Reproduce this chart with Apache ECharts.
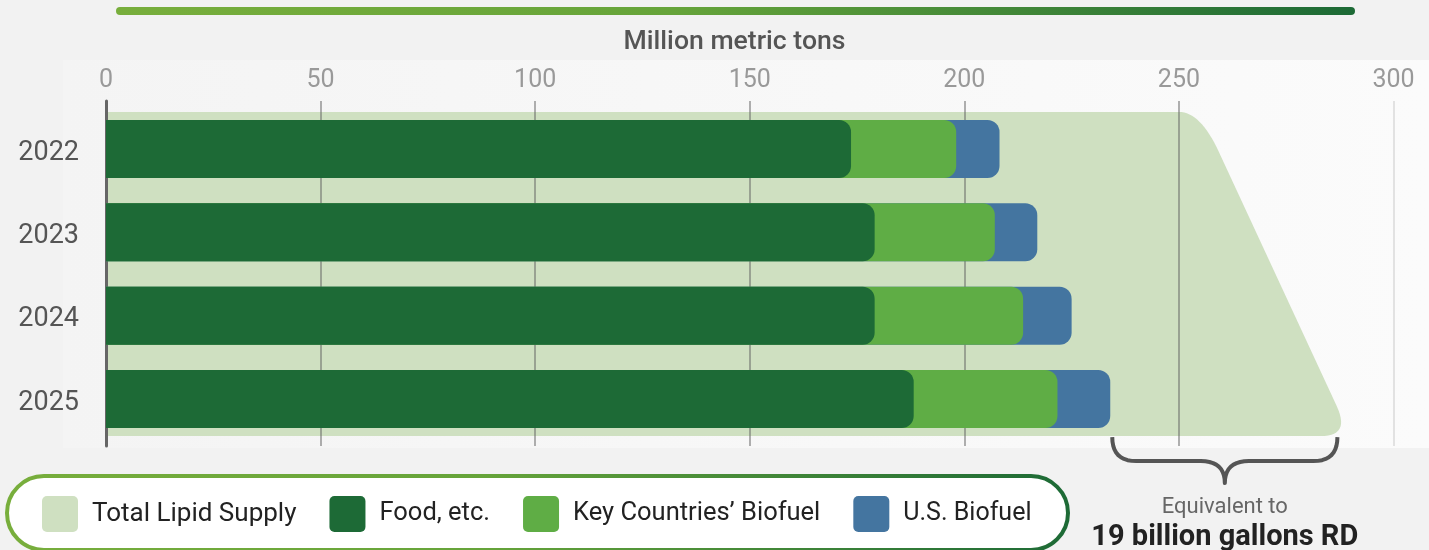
<!DOCTYPE html>
<html>
<head>
<meta charset="utf-8">
<script src="https://cdn.jsdelivr.net/npm/echarts@6/dist/echarts.min.js"></script>
<style>
  html, body { margin: 0; padding: 0; background: #f2f2f2; }
  #chart { width: 1429px; height: 550px; }
</style>
</head>
<body>
<div id="chart"></div>
<script>
// data (million metric tons)
const years = ['2022', '2023', '2024', '2025'];
const foodEtc = [173.6, 179.1, 179.1, 188.2];
const keyBiofuel = [24.5, 28.0, 34.6, 33.5];
const usBiofuel = [10.1, 9.9, 11.3, 12.3];
const totalSupply = [259, 268, 277, 286];
const supplyFlatEnd = 250;

const xMin = 0, xMax = 300, xStep = 50;
const axisTitle = 'Million metric tons';
const seriesNames = ['Total Lipid Supply', 'Food, etc.', 'Key Countries’ Biofuel', 'U.S. Biofuel'];
const braceLines = ['Equivalent to', '19 billion gallons RD'];

const colors = {
    supply: '#cfe0c1',
    food: '#1d6a36',
    key: '#5fad45',
    us: '#4475a0'
};

// overlapped bars (each segment rounded, so the one below shows under the corner)
let keyEnd = foodEtc.map(function (v, i) { return v + keyBiofuel[i]; });
let usEnd = keyEnd.map(function (v, i) { return v + usBiofuel[i]; });

function quad(p0, c, p1, n) {
    let pts = [];
    for (let i = 0; i <= n; i++) {
        let t = i / n;
        let a = (1 - t) * (1 - t), b = 2 * (1 - t) * t, d = t * t;
        pts.push([a * p0[0] + b * c[0] + d * p1[0], a * p0[1] + b * c[1] + d * p1[1]]);
    }
    return pts;
}

function renderSupply(params, api) {
    let band = api.size([0, 1])[1];
    let pad = band * 0.445;
    let p0 = api.coord([totalSupply[0], 0]);
    let p3 = api.coord([totalSupply[3], 3]);
    let x0 = api.coord([0, 0])[0];
    let flat = api.coord([supplyFlatEnd, 0])[0];
    let top = p0[1] - pad, bot = p3[1] + pad;
    let k = (p3[0] - p0[0]) / (p3[1] - p0[1]);
    let xt = p0[0] - k * pad, xb = p3[0] + k * pad;
    let pts = [[x0, top], [flat, top]];
    pts = pts.concat(quad([flat, top], [xt, top], [xt + k * 40, top + 40], 16));
    pts = pts.concat(quad([xb - k * 30, bot - 30], [xb, bot], [xb - 30, bot], 14));
    pts.push([x0, bot]);
    return {
        type: 'polygon',
        shape: { points: pts },
        style: { fill: api.visual('color') }
    };
}

function renderBrace(params, api) {
    let band = api.size([0, 1])[1];
    let pad = band * 0.445;
    let a = api.coord([usEnd[3], 3]);
    let b = api.coord([totalSupply[3], 3]);
    let xl = a[0] + 2, xr = b[0] + 4;
    let xm = (xl + xr) / 2;
    let y0 = a[1] + pad + 1, y1 = y0 + 24, y2 = y0 + 46;
    let r = 24;
    let pts = quad([xl, y0], [xl, y1], [xl + r, y1], 10);
    pts = pts.concat(quad([xm - r, y1], [xm, y1], [xm, y2], 10));
    pts = pts.concat(quad([xm, y2], [xm, y1], [xm + r, y1], 10));
    pts = pts.concat(quad([xr - r, y1], [xr, y1], [xr, y0], 10));
    return {
        type: 'group',
        children: [
            {
                type: 'polyline',
                shape: { points: pts },
                style: { stroke: '#555', lineWidth: 4, fill: null, lineJoin: 'round' }
            },
            {
                type: 'text', x: xm, y: y0 + 70,
                style: { text: braceLines[0], fill: '#666', font: '22px Roboto', align: 'center', verticalAlign: 'middle' }
            },
            {
                type: 'text', x: xm, y: y0 + 101,
                style: { text: braceLines[1], fill: '#222', font: 'bold 29px Roboto', align: 'center', verticalAlign: 'middle' }
            }
        ]
    };
}

let greenGrad = new echarts.graphic.LinearGradient(0, 0, 1, 0, [
    { offset: 0, color: '#78ae3c' },
    { offset: 0.45, color: '#66a43a' },
    { offset: 1, color: '#1d6a36' }
]);

// legend label sizes tuned one by one to the picture
let legendSizes = [26, 25.5, 25.5, 25];

let myChart = echarts.init(document.getElementById('chart'));

let option = {
    animation: false,
    backgroundColor: '#f2f2f2',
    textStyle: { fontFamily: 'Roboto' },
    graphic: [
        {
            type: 'rect', z: -10,
            shape: { x: 63, y: 60, width: 1366, height: 388 },
            style: {
                fill: new echarts.graphic.LinearGradient(0, 0, 1, 0, [
                    { offset: 0, color: '#f4f4f4' },
                    { offset: 1, color: '#fbfbfb' }
                ])
            }
        },
        {
            type: 'rect',
            shape: { x: 116, y: 7, width: 1239, height: 8, r: 4 },
            style: { fill: greenGrad }
        },
        {
            type: 'text', x: 734.5, y: 42,
            style: { text: axisTitle, fill: '#555', font: '500 26.6px Roboto', align: 'center', verticalAlign: 'middle' }
        },
        {
            type: 'rect',
            shape: { x: 7, y: 476, width: 1061, height: 74, r: 37 },
            style: { fill: '#fff', stroke: greenGrad, lineWidth: 4 }
        }
    ],
    legend: {
        data: seriesNames.map(function (n, i) {
            return { name: n, textStyle: { fontSize: legendSizes[i] } };
        }),
        left: 42,
        top: 496,
        padding: 0,
        itemWidth: 36,
        itemHeight: 36,
        itemGap: 33,
        selectedMode: false,
        icon: 'path://M5,0H31A5,5 0 0 1 36,5V31A5,5 0 0 1 31,36H5A5,5 0 0 1 0,31V5A5,5 0 0 1 5,0Z',
        textStyle: { fontSize: 26, color: '#222', fontFamily: 'Roboto', padding: [0, 0, 0, 9] }
    },
    grid: [
        { left: 106, right: 35.5, top: 101, bottom: 104 },
        { left: 106, right: 35.5, top: 107.3, height: 333.4 }
    ],
    xAxis: [
        {
            gridIndex: 0,
            type: 'value',
            position: 'top',
            min: xMin,
            max: xMax,
            interval: xStep,
            axisLine: { show: false },
            axisTick: { show: false },
            axisLabel: { fontSize: 25, color: '#999', margin: 8, fontFamily: 'Roboto' },
            splitLine: {
                show: true,
                lineStyle: {
                    width: 2,
                    color: ['#666', 'rgba(100,100,100,0.5)', 'rgba(100,100,100,0.5)', 'rgba(100,100,100,0.5)',
                        'rgba(100,100,100,0.5)', 'rgba(100,100,100,0.5)', '#e2e2e2']
                }
            }
        },
        {
            gridIndex: 1,
            type: 'value',
            min: xMin,
            max: xMax,
            show: false
        }
    ],
    yAxis: [
        {
            gridIndex: 0,
            type: 'value',
            min: 0,
            max: 1,
            axisLine: { show: true, lineStyle: { color: '#666', width: 3 } },
            axisTick: { show: false },
            axisLabel: { show: false },
            splitLine: { show: false }
        },
        {
            gridIndex: 1,
            type: 'category',
            inverse: true,
            data: years,
            axisLine: { show: false },
            axisTick: { show: false },
            axisLabel: {
                fontSize: 27, color: '#555', margin: 27, fontFamily: 'Roboto',
                verticalAlign: 'top', lineHeight: 8
            }
        }
    ],
    series: [
        {
            name: seriesNames[0],
            type: 'custom',
            xAxisIndex: 1,
            yAxisIndex: 1,
            z: -1,
            clip: false,
            silent: true,
            itemStyle: { color: colors.supply },
            renderItem: renderSupply,
            data: [[totalSupply[0], 0]]
        },
        {
            name: seriesNames[3],
            type: 'bar',
            xAxisIndex: 1,
            yAxisIndex: 1,
            barWidth: 58,
            barGap: '-100%',
            itemStyle: { color: colors.us, borderRadius: [0, 12, 12, 0] },
            data: usEnd
        },
        {
            name: seriesNames[2],
            type: 'bar',
            xAxisIndex: 1,
            yAxisIndex: 1,
            barWidth: 58,
            barGap: '-100%',
            itemStyle: { color: colors.key, borderRadius: [0, 12, 12, 0] },
            data: keyEnd
        },
        {
            name: seriesNames[1],
            type: 'bar',
            xAxisIndex: 1,
            yAxisIndex: 1,
            barWidth: 58,
            barGap: '-100%',
            itemStyle: { color: colors.food, borderRadius: [0, 12, 12, 0] },
            data: foodEtc
        },
        {
            name: 'brace',
            type: 'custom',
            xAxisIndex: 1,
            yAxisIndex: 1,
            clip: false,
            silent: true,
            renderItem: renderBrace,
            data: [[usEnd[3], 3]]
        }
    ]
};
myChart.setOption(option);
</script>
</body>
</html>
